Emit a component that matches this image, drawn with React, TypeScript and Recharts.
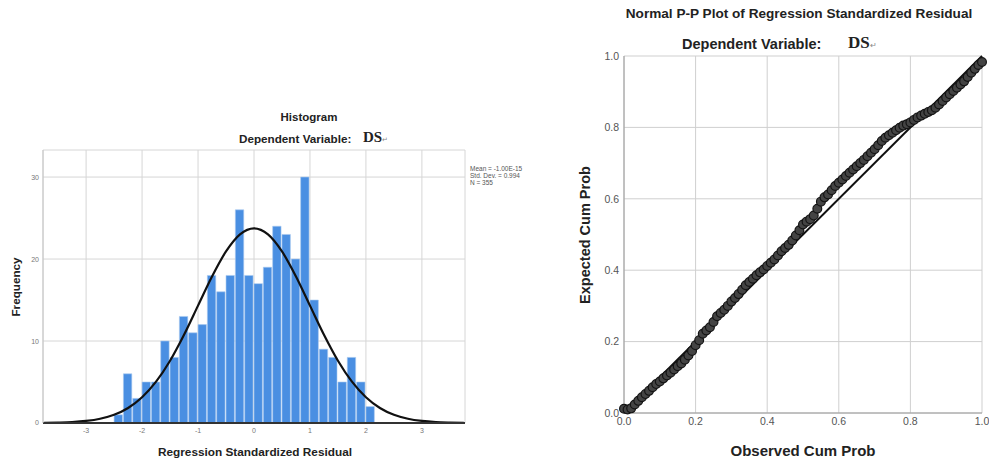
import React from "react"
import {
  Bar,
  CartesianGrid,
  ComposedChart,
  Line,
  ReferenceLine,
  Scatter,
  ScatterChart,
  XAxis,
  YAxis,
} from "recharts"

// histogram bins (midpoints, width 1/6) and frequencies
const binMids = [
  -2.4167, -2.25, -2.0833, -1.9167, -1.75, -1.5833, -1.4167, -1.25, -1.0833, -0.9167,
  -0.75, -0.5833, -0.4167, -0.25, -0.0833, 0.0833, 0.25, 0.4167, 0.5833, 0.75,
  0.9167, 1.0833, 1.25, 1.4167, 1.5833, 1.75, 1.9167, 2.0833,
]
const binCounts = [
  1, 6, 3, 5, 5, 10, 8, 13, 11, 12, 18, 16, 18, 26, 18, 17, 19, 24, 23, 20, 30, 15, 9, 8, 5, 8, 5, 2,
]

// normal curve
const curveX = [
  -3.75, -3.5, -3.25, -3, -2.75, -2.5, -2.25, -2, -1.75, -1.5, -1.25, -1, -0.75, -0.5, -0.25, 0,
  0.25, 0.5, 0.75, 1, 1.25, 1.5, 1.75, 2, 2.25, 2.5, 2.75, 3, 3.25, 3.5, 3.75,
]
const curveY = [
  0.02, 0.05, 0.11, 0.25, 0.52, 1.0, 1.83, 3.14, 5.04, 7.6, 10.77, 14.32, 17.87, 20.93, 23.01, 23.75,
  23.01, 20.93, 17.87, 14.32, 10.77, 7.6, 5.04, 3.14, 1.83, 1.0, 0.52, 0.25, 0.11, 0.05, 0.02,
]

const histTicksX = [-3, -2, -1, 0, 1, 2, 3]
const histTicksY = [0, 10, 20, 30]
const statLines = ["Mean = -1.00E-15", "Std. Dev. = 0.994", "N = 355"]

// P-P plot points
const observedCum = [
  0.0, 0.01, 0.02, 0.03, 0.04, 0.05, 0.06, 0.07, 0.08, 0.09,
  0.1, 0.11, 0.12, 0.13, 0.14, 0.15, 0.16, 0.17, 0.18, 0.19,
  0.2, 0.21, 0.22, 0.23, 0.24, 0.25, 0.26, 0.27, 0.28, 0.29,
  0.3, 0.31, 0.32, 0.33, 0.34, 0.35, 0.36, 0.37, 0.38, 0.39,
  0.4, 0.41, 0.42, 0.43, 0.44, 0.45, 0.46, 0.47, 0.48, 0.49,
  0.5, 0.51, 0.52, 0.53, 0.54, 0.55, 0.56, 0.57, 0.58, 0.59,
  0.6, 0.61, 0.62, 0.63, 0.64, 0.65, 0.66, 0.67, 0.68, 0.69,
  0.7, 0.71, 0.72, 0.73, 0.74, 0.75, 0.76, 0.77, 0.78, 0.79,
  0.8, 0.81, 0.82, 0.83, 0.84, 0.85, 0.86, 0.87, 0.88, 0.89,
  0.9, 0.91, 0.92, 0.93, 0.94, 0.95, 0.96, 0.97, 0.98, 0.99, 1.0,
]
const expectedCum = [
  0.012, 0.01, 0.013, 0.024, 0.034, 0.044, 0.053, 0.062, 0.072, 0.081,
  0.088, 0.097, 0.105, 0.113, 0.122, 0.131, 0.139, 0.149, 0.161, 0.174,
  0.19, 0.204, 0.222, 0.231, 0.24, 0.255, 0.271, 0.28, 0.289, 0.3,
  0.312, 0.322, 0.333, 0.345, 0.358, 0.367, 0.376, 0.386, 0.394, 0.402,
  0.412, 0.421, 0.43, 0.441, 0.453, 0.462, 0.471, 0.483, 0.497, 0.512,
  0.528, 0.536, 0.543, 0.553, 0.572, 0.592, 0.604, 0.612, 0.624, 0.636,
  0.645, 0.654, 0.664, 0.673, 0.682, 0.691, 0.7, 0.709, 0.719, 0.729,
  0.739, 0.75, 0.762, 0.771, 0.778, 0.785, 0.792, 0.799, 0.805, 0.809,
  0.814, 0.821, 0.828, 0.833, 0.838, 0.843, 0.848, 0.855, 0.864, 0.874,
  0.884, 0.893, 0.902, 0.911, 0.92, 0.929, 0.941, 0.953, 0.964, 0.975, 0.983,
]
const ppTicks = [0, 0.2, 0.4, 0.6, 0.8, 1]

const histData = binMids.map((mid, i) => ({ mid, count: binCounts[i] }))
const curveData = curveX.map((x, i) => ({ x, y: curveY[i] }))
const ppData = observedCum.map((observed, i) => ({ observed, expected: expectedCum[i] }))
const diagonal = [
  { x: 0, y: 0 },
  { x: 1, y: 1 },
]

const sans = "'Liberation Sans', Arial, sans-serif"
const serif = "'Liberation Serif', 'Times New Roman', serif"

function Histogram() {
  return (
    <ComposedChart
      width={480}
      height={363}
      data={histData}
      margin={{ top: 50, right: 15, left: 13, bottom: 20 }}
    >
      <CartesianGrid stroke="#d6d6d6" strokeWidth={1} />
      <XAxis
        dataKey="mid"
        type="number"
        domain={[-3.77, 3.77]}
        ticks={histTicksX}
        allowDataOverflow
        height={20}
        tickSize={0}
        tickMargin={5}
        axisLine={{ stroke: "#333", strokeWidth: 2 }}
        tick={{ fontSize: 7, fill: "#777", fontFamily: sans }}
      />
      <XAxis xAxisId="curve" dataKey="x" type="number" domain={[-3.77, 3.77]} allowDataOverflow hide />
      <YAxis
        type="number"
        domain={[0, 33.3]}
        ticks={histTicksY}
        allowDataOverflow
        width={30}
        tickSize={0}
        tickMargin={4}
        axisLine={{ stroke: "#c4c4c4" }}
        tick={{ fontSize: 7, fill: "#777", fontFamily: sans }}
      />
      <Bar
        dataKey="count"
        fill="#4a8fe2"
        stroke="#a9c9f0"
        strokeWidth={0.6}
        barSize={9.33}
        isAnimationActive={false}
      />
      <Line
        xAxisId="curve"
        data={curveData}
        dataKey="y"
        type="monotone"
        dot={false}
        stroke="#111"
        strokeWidth={2.2}
        isAnimationActive={false}
      />
    </ComposedChart>
  )
}

function PPPlot() {
  return (
    <ScatterChart width={409} height={463} margin={{ top: 56, right: 7, left: 4, bottom: 20 }}>
      <CartesianGrid stroke="#cfcfcf" strokeWidth={1} />
      <XAxis
        dataKey="observed"
        type="number"
        domain={[0, 1]}
        ticks={ppTicks}
        tickFormatter={(v: number) => v.toFixed(1)}
        height={30}
        tickSize={0}
        tickMargin={5}
        axisLine={{ stroke: "#9a9a9a" }}
        tick={{ fontSize: 10.5, fill: "#555", fontFamily: sans }}
      />
      <YAxis
        dataKey="expected"
        type="number"
        domain={[0, 1]}
        ticks={ppTicks}
        tickFormatter={(v: number) => v.toFixed(1)}
        width={40}
        tickSize={0}
        tickMargin={5}
        axisLine={{ stroke: "#9a9a9a" }}
        tick={{ fontSize: 10.5, fill: "#555", fontFamily: sans }}
      />
      <ReferenceLine segment={diagonal} stroke="#111" strokeWidth={2} ifOverflow="visible" />
      <Scatter
        data={ppData}
        isAnimationActive={false}
        shape={(p: any) => (
          <circle cx={p.cx} cy={p.cy} r={4.4} fill="#444" stroke="#141414" strokeWidth={1.2} />
        )}
      />
    </ScatterChart>
  )
}

export default function App() {
  return (
    <div style={{ position: "absolute", left: 0, top: 0, width: 989, height: 463, background: "#fff" }}>
      <div style={{ position: "absolute", left: 0, top: 100 }}>
        <Histogram />
      </div>
      <div style={{ position: "absolute", left: 580, top: 0 }}>
        <PPPlot />
      </div>
      <svg
        width={989}
        height={463}
        style={{ position: "absolute", left: 0, top: 0, pointerEvents: "none" }}
      >
        {/* histogram titles */}
        <text x={309} y={121} textAnchor="middle" fontFamily={sans} fontWeight="bold" fontSize={11.5} fill="#222">
          Histogram
        </text>
        <text x={239} y={143} fontFamily={sans} fontWeight="bold" fontSize={11.7} fill="#222">
          Dependent Variable:
        </text>
        <text x={363} y={142} fontFamily={serif} fontWeight="bold" fontSize={15} fill="#222">
          DS<tspan fontSize={7} fill="#888" fontWeight="normal">↵</tspan>
        </text>
        {statLines.map((s, i) => (
          <text key={s} x={470} y={171 + i * 7} fontFamily={sans} fontSize={6.5} fill="#555">
            {s}
          </text>
        ))}
        <text transform="translate(19.5,287) rotate(-90)" textAnchor="middle" fontFamily={sans} fontWeight="bold" fontSize={11.7} fill="#222">
          Frequency
        </text>
        <text x={255} y={456} textAnchor="middle" fontFamily={sans} fontWeight="bold" fontSize={11.8} fill="#222">
          Regression Standardized Residual
        </text>

        {/* P-P plot titles */}
        <text x={799} y={18} textAnchor="middle" fontFamily={sans} fontWeight="bold" fontSize={13.6} fill="#222">
          Normal P-P Plot of Regression Standardized Residual
        </text>
        <text x={682} y={49} fontFamily={sans} fontWeight="bold" fontSize={14.5} fill="#222">
          Dependent Variable:
        </text>
        <text x={848} y={48} fontFamily={serif} fontWeight="bold" fontSize={17} fill="#222">
          DS<tspan fontSize={8} fill="#888" fontWeight="normal">↵</tspan>
        </text>
        <text transform="translate(590,235) rotate(-90)" textAnchor="middle" fontFamily={sans} fontWeight="bold" fontSize={14.5} fill="#222">
          Expected Cum Prob
        </text>
        <text x={803} y={456} textAnchor="middle" fontFamily={sans} fontWeight="bold" fontSize={15} fill="#222">
          Observed Cum Prob
        </text>
      </svg>
    </div>
  )
}
